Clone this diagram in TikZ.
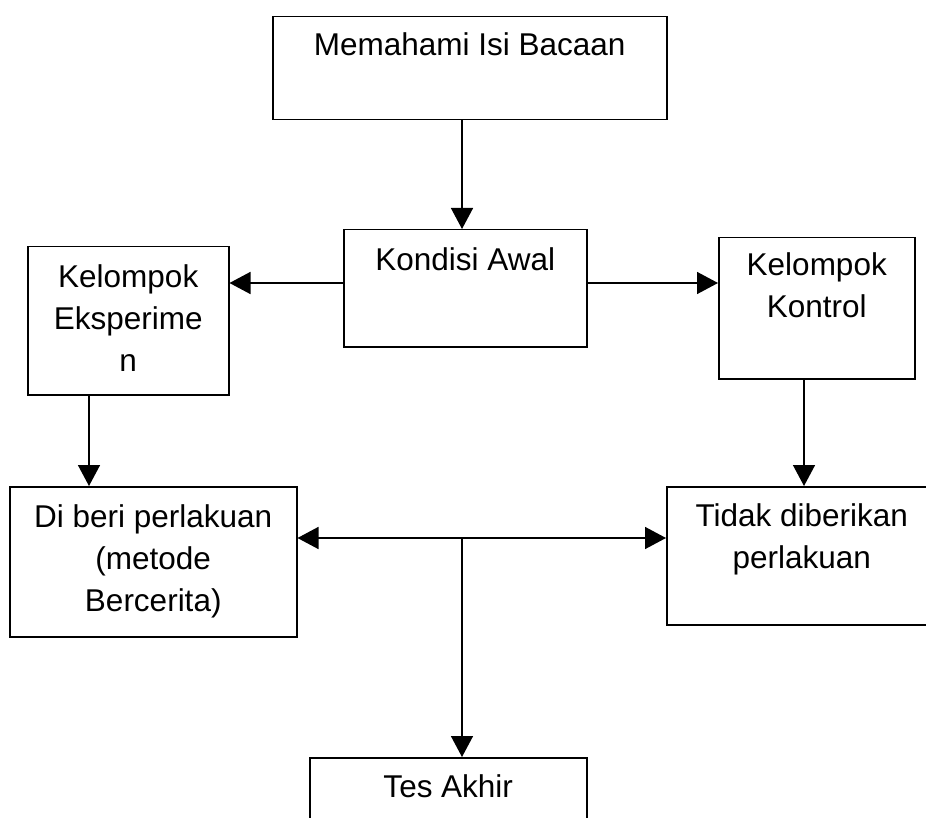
\documentclass[tikz,border=0pt]{standalone}
\usepackage{fontspec}
\setmainfont{Liberation Sans}
\usetikzlibrary{arrows.meta,calc}
\tikzset{
  boxnode/.style={draw=black, line width=1.5pt, rectangle, inner sep=0pt, anchor=north west},
  boxtext/.style={inner sep=0pt, anchor=north, align=center, font=\fontsize{31.5}{42}\selectfont},
  arr/.style={line width=1.5pt, -{Triangle[length=21pt,width=22pt]}},
  darr/.style={line width=1.5pt, {Triangle[length=21pt,width=22pt]}-{Triangle[length=21pt,width=22pt]}}
}
\newcommand{\tstrut}{\rule{0pt}{26pt}}
\begin{document}
\begin{tikzpicture}[x=1pt,y=-1pt]
\clip (0,0) rectangle (926,818);
\fill[white] (0,0) rectangle (926,818);
% boxes
\node[boxnode, minimum width=394pt, minimum height=103pt] (top) at (272,16) {};
\node[boxnode, minimum width=243pt, minimum height=117pt] (kond) at (343,229) {};
\node[boxnode, minimum width=201pt, minimum height=148pt] (eksp) at (27,246) {};
\node[boxnode, minimum width=196pt, minimum height=141pt] (kont) at (718,237) {};
\node[boxnode, minimum width=287pt, minimum height=150pt] (beri) at (9,486) {};
\node[boxnode, minimum width=270pt, minimum height=138pt] (tidak) at (666,486) {};
\node[boxnode, minimum width=277pt, minimum height=120pt] (tes) at (309,757) {};
% texts
\node[boxtext] (ttop) at ($(top.north)+(0,13)$) {\tstrut Memahami Isi Bacaan};
\node[boxtext] (tkond) at ($(kond.north)+(0,15)$) {\tstrut Kondisi Awal};
\node[boxtext] (teksp) at ($(eksp.north)+(0,15)$) {\tstrut Kelompok\\Eksperime\\n};
\node[boxtext] (tkont) at ($(kont.north)+(0,12)$) {\tstrut Kelompok\\Kontrol};
\node[boxtext] (tberi) at ($(beri.north)+(0,15)$) {\tstrut Di beri perlakuan\\(metode\\Bercerita)};
\node[boxtext] (ttidak) at ($(tidak.north)+(0,14)$) {\tstrut Tidak diberikan\\perlakuan};
\node[boxtext] (ttes) at ($(tes.north)+(0,14)$) {\tstrut Tes Akhir};
% helper coordinates
\coordinate (cx) at (462,0);
\coordinate (ya) at (0,283);
\coordinate (yb) at (0,538);
\coordinate (j) at (462,538);
\coordinate (xe) at (89,0);
\coordinate (xk) at (804,0);
% connectors
\draw[arr] (top.south -| cx) -- (kond.north -| cx);
\draw[arr] (kond.west |- ya) -- (eksp.east |- ya);
\draw[arr] (kond.east |- ya) -- (kont.west |- ya);
\draw[arr] (eksp.south -| xe) -- (beri.north -| xe);
\draw[arr] (kont.south -| xk) -- (tidak.north -| xk);
\draw[darr] (beri.east |- yb) -- (tidak.west |- yb);
\draw[arr] (j) -- (tes.north -| j);
\end{tikzpicture}
\end{document}
